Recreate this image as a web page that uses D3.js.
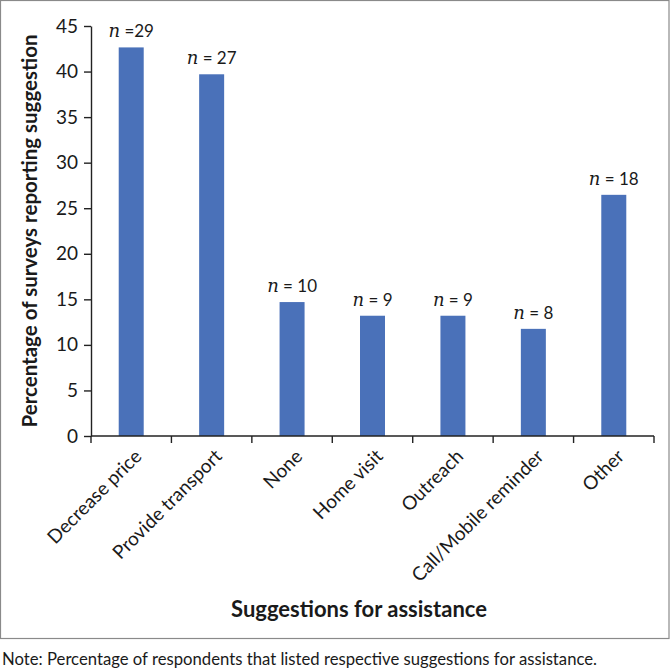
<!DOCTYPE html>
<html>
<head>
<meta charset="utf-8">
<script src="https://cdn.jsdelivr.net/npm/d3@7"></script>
<style>
  body { margin: 0; background: #fff; }
  svg { display: block; }
  text { font-family: Lato, "Open Sans", sans-serif; fill: #1a1a1a; }
  .axis path, .axis line { stroke: #222; stroke-width: 1.4; }
</style>
</head>
<body>
<div id="chart"></div>
<script>
const width = 670;
const height = 669;

// data
const categories = ['Decrease price', 'Provide transport', 'None', 'Home visit', 'Outreach', 'Call/Mobile reminder', 'Other'];
const percents = [42.65, 39.7, 14.7, 13.2, 13.2, 11.76, 26.47];
const counts = ['=29', '= 27', '= 10', '= 9', '= 9', '= 8', '= 18'];
const yTicks = [0, 5, 10, 15, 20, 25, 30, 35, 40, 45];

const margin = {left: 91, right: 16, top: 26, bottom: 233};

const svg = d3.select('#chart').append('svg')
  .attr('width', width)
  .attr('height', height);

// frame
svg.append('rect')
  .attr('x', 0.5).attr('y', 0.5)
  .attr('width', width - 1.5).attr('height', 638)
  .attr('fill', 'none').attr('stroke', '#8a8a8a').attr('stroke-width', 1.2);

const x = d3.scaleBand()
  .domain(categories)
  .range([margin.left, width - margin.right])
  .paddingInner(0).paddingOuter(0);

const y = d3.scaleLinear()
  .domain([0, 45])
  .range([height - margin.bottom, margin.top]);

const barW = 25;

// bars
svg.selectAll('.bar')
  .data(categories)
  .enter().append('rect')
  .attr('class', 'bar')
  .attr('x', d => x(d) + x.bandwidth() / 2 - barW / 2)
  .attr('y', (d, i) => y(percents[i]))
  .attr('width', barW)
  .attr('height', (d, i) => y(0) - y(percents[i]))
  .attr('fill', '#4a71b9');

// n labels
const lab = svg.selectAll('.nlab')
  .data(categories)
  .enter().append('text')
  .attr('class', 'nlab')
  .attr('x', d => x(d) + x.bandwidth() / 2)
  .attr('y', (d, i) => y(percents[i]) - 10)
  .attr('text-anchor', 'middle')
  .style('font-size', '17px');
lab.append('tspan')
  .style('font-family', '"DejaVu Serif", "Liberation Serif", serif')
  .style('font-style', 'italic')
  .style('font-size', '18px')
  .text('n');
lab.append('tspan')
  .text((d, i) => ' ' + counts[i]);

// y axis
const yAxis = svg.append('g')
  .attr('class', 'axis')
  .attr('transform', 'translate(' + margin.left + ',0)')
  .call(d3.axisLeft(y).tickValues(yTicks).tickSize(7).tickPadding(6).tickSizeOuter(0));
yAxis.selectAll('text').style('font-size', '19px').style('font-family', 'Lato, sans-serif').attr('fill', '#1a1a1a');

// x axis: ticks on category boundaries
const xAxis = svg.append('g')
  .attr('class', 'axis')
  .attr('transform', 'translate(0,' + y(0) + ')');
xAxis.append('line')
  .attr('x1', margin.left).attr('x2', width - margin.right)
  .attr('y1', 0).attr('y2', 0);
const bounds = categories.map(d => x(d)).concat([x(categories[categories.length - 1]) + x.bandwidth()]);
xAxis.selectAll('.tk')
  .data(bounds)
  .enter().append('line')
  .attr('x1', d => d).attr('x2', d => d)
  .attr('y1', 0).attr('y2', 7);

xAxis.selectAll('.xl')
  .data(categories)
  .enter().append('text')
  .attr('transform', d => 'translate(' + (x(d) + x.bandwidth() / 2 + 2) + ',12) rotate(-45)')
  .attr('text-anchor', 'end')
  .attr('dy', '0.71em')
  .style('font-size', '19px')
  .text(d => d);

// axis titles
svg.append('text')
  .attr('transform', 'translate(37,' + (y(22.5)) + ') rotate(-90)')
  .attr('text-anchor', 'middle')
  .style('font-size', '20.5px')
  .style('font-weight', 'bold')
  .text('Percentage of surveys reporting suggestion');

svg.append('text')
  .attr('x', 359)
  .attr('y', 617)
  .attr('text-anchor', 'middle')
  .style('font-size', '22px')
  .style('font-weight', 'bold')
  .text('Suggestions for assistance');

// note
svg.append('text')
  .attr('x', 2)
  .attr('y', 665)
  .style('font-size', '16.7px')
  .text('Note: Percentage of respondents that listed respective suggestions for assistance.');
</script>
</body>
</html>
